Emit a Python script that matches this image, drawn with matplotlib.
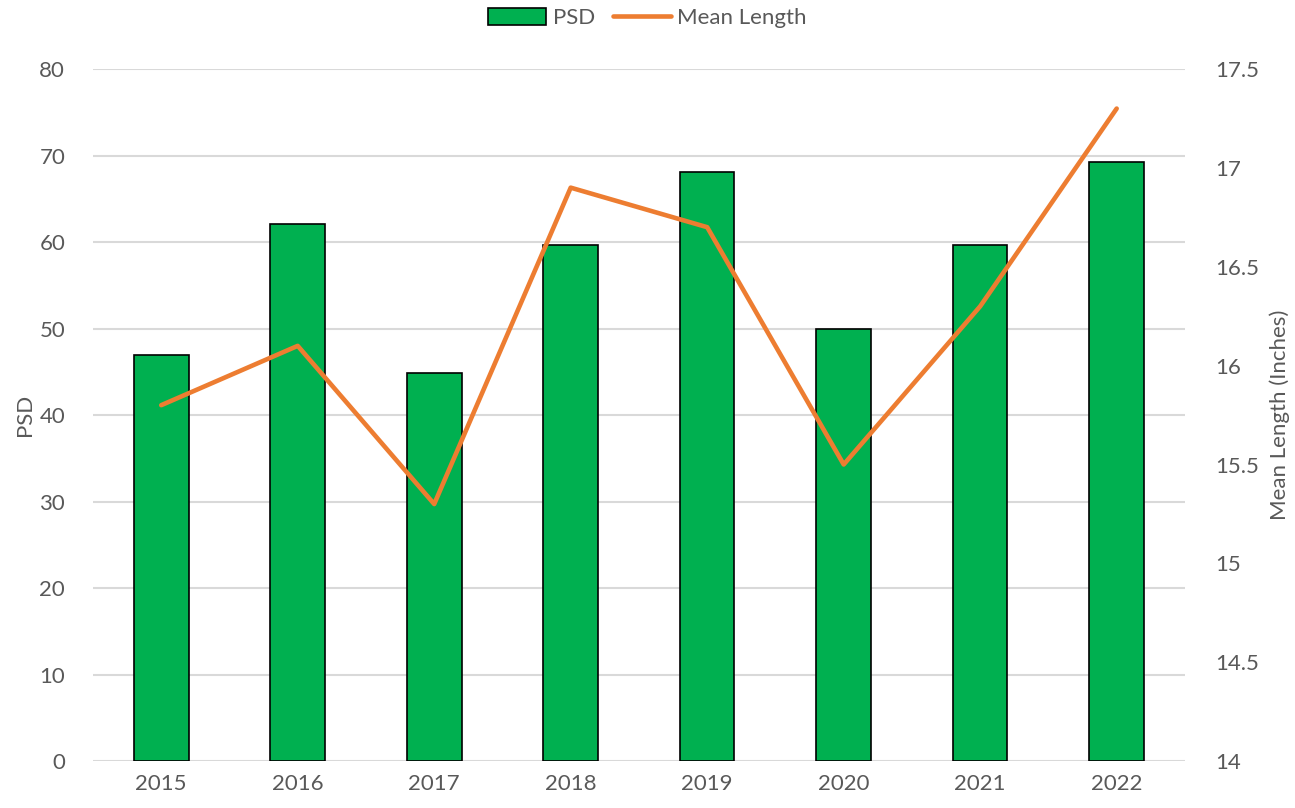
import matplotlib
matplotlib.use("Agg")
from matplotlib import pyplot as plt

years = ['2015', '2016', '2017', '2018', '2019', '2020', '2021', '2022']
psd = [47, 62.1, 44.9, 59.6, 68.1, 50, 59.6, 69.2]
mean_length = [15.8, 16.1, 15.3, 16.9, 16.7, 15.5, 16.3, 17.3]

plt.rcParams['font.family'] = ['Lato', 'DejaVu Sans']
text_color = '#595959'

fig = plt.figure(figsize=(12.95, 8.08), dpi=100)
ax = fig.add_axes([0.0718, 0.058, 0.8432, 0.8566])
x = range(len(years))

ax.bar(x, psd, width=0.4, color='#00B050', edgecolor='black', linewidth=1.2,
       label='PSD', zorder=3)
ax.set_ylim(0, 80)
ax.set_xlim(-0.5, len(years) - 0.5)
ax.set_yticks(range(0, 81, 10))
ax.set_xticks(list(x))
ax.set_xticklabels(years)
ax.grid(axis='y', color='#D9D9D9', linewidth=1.5, zorder=0)
ax.set_ylabel('PSD', fontsize=16, color=text_color, labelpad=3)

ax2 = ax.twinx()
ax2.plot(x, mean_length, color='#ED7D31', linewidth=3.3, label='Mean Length',
         solid_capstyle='round', zorder=4)
ax2.set_ylim(14, 17.5)
ax2.set_yticks([14, 14.5, 15, 15.5, 16, 16.5, 17, 17.5])
ax2.set_yticklabels(['14', '14.5', '15', '15.5', '16', '16.5', '17', '17.5'])
ax2.set_ylabel('Mean Length (Inches)', fontsize=16, color=text_color, labelpad=7)

for a in (ax, ax2):
    for s in a.spines.values():
        s.set_visible(False)
    a.tick_params(length=0, labelsize=16, labelcolor=text_color)
ax.tick_params(axis='y', pad=20)
ax.tick_params(axis='x', pad=9)
ax2.tick_params(axis='y', pad=22)

h1, l1 = ax.get_legend_handles_labels()
h2, l2 = ax2.get_legend_handles_labels()
fig.legend(h1 + h2, l1 + l2, loc='upper center', bbox_to_anchor=(0.5, 1.015),
           ncol=2, frameon=False, fontsize=16, labelcolor=text_color,
           handlelength=2.6, handleheight=0.8, columnspacing=0.8, handletextpad=0.3)

fig.savefig('out.png', dpi=100)
